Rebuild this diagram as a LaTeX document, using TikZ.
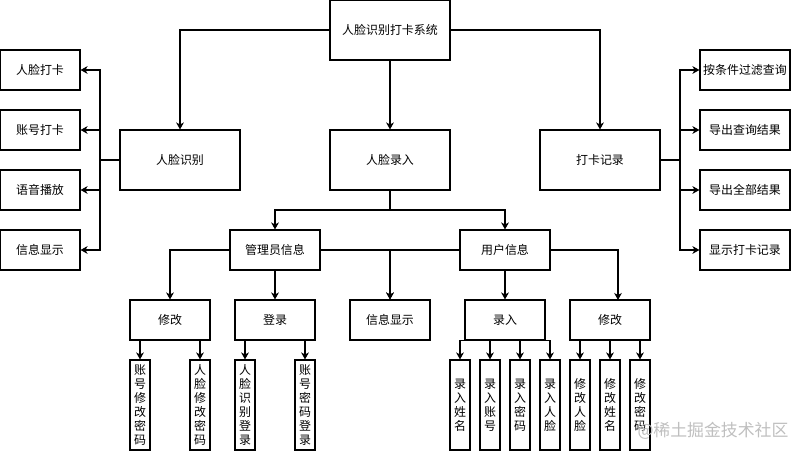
\documentclass[tikz,border=0pt]{standalone}
\usepackage{fontspec}
\setmainfont{Noto Sans CJK SC}
\usepackage{tikz}
\usetikzlibrary{positioning}
\usetikzlibrary{arrows.meta}
\tikzstyle{box}=[rectangle,draw=black,line width=0.75pt,minimum width=2cm,minimum height=1cm,inner sep=1pt,font=\fontsize{8.5}{10}\selectfont]
\tikzstyle{bigbox}=[box,minimum width=3cm,minimum height=1.5cm]
\tikzstyle{widebox}=[box,minimum width=2.25cm]
\tikzstyle{tallbox}=[box,minimum width=0.5cm,minimum height=2.25cm,align=center,font=\fontsize{8.5}{9.9}\selectfont]
\tikzstyle{edge} = [draw,line width=0.75pt,-{Stealth[length=5pt,width=5.5pt,inset=1.5pt]}]
\tikzstyle{plainedge} = [draw,line width=0.75pt]

\begin{document}
\begin{tikzpicture}[x=0.025cm,y=-0.025cm]

  \useasboundingbox (0,0) rectangle (791,451);

  % main row
  \foreach \x/\y/\name/\label in {390/30/sys/人脸识别打卡系统, 180/160/rec/人脸识别, 390/160/ent/人脸录入, 600/160/log/打卡记录}
          \node[bigbox] (\name) at (\x,\y) {\label};

  \foreach \y/\name/\label in {70/l1/人脸打卡, 130/l2/账号打卡, 190/l3/语音播放, 250/l4/信息显示}
          \node[box] (\name) at (40,\y) {\label};

  \foreach \y/\name/\label in {70/r1/按条件过滤查询, 130/r2/导出查询结果, 190/r3/导出全部结果, 250/r4/显示打卡记录}
          \node[widebox] (\name) at (745,\y) {\label};

  \node[widebox] (admin) at (275,250) {管理员信息};
  \node[widebox] (user) at (505,250) {用户信息};

  \foreach \x/\name/\label in {170/amod/修改, 275/alog/登录, 390/info/信息显示, 505/uent/录入, 610/umod/修改}
          \node[box] (\name) at (\x,320) {\label};

  \foreach \x/\name/\label in {140/a1/{账\\号\\修\\改\\密\\码}, 200/a2/{人\\脸\\修\\改\\密\\码}, 245/a3/{人\\脸\\识\\别\\登\\录}, 305/a4/{账\\号\\密\\码\\登\\录},
                               460/u1/{录\\入\\姓\\名}, 490/u2/{录\\入\\账\\号}, 520/u3/{录\\入\\密\\码}, 550/u4/{录\\入\\人\\脸},
                               580/u5/{修\\改\\人\\脸}, 610/u6/{修\\改\\姓\\名}, 640/u7/{修\\改\\密\\码}}
          \node[tallbox] (\name) at (\x,405) {\label};

  \coordinate (lbus) at (100,160);
  \coordinate (rbus) at (680,160);
  \coordinate (ebus) at (390,210);
  \coordinate (umodin) at (618,300);

  % top level
  \path[edge] (sys.west) -| (rec.north);
  \path[edge] (sys.east) -| (log.north);
  \path[edge] (sys.south) -- (ent.north);

  \path[plainedge] (rec.west) -- (lbus);
  \foreach \dest in {l1,l2,l3,l4}
         \path[edge] (lbus) |- (\dest.east);

  \path[plainedge] (log.east) -- (rbus);
  \foreach \dest in {r1,r2,r3,r4}
         \path[edge] (rbus) |- (\dest.west);

  \path[plainedge] (ent.south) -- (ebus);
  \foreach \dest in {admin,user}
         \path[edge] (ebus) -| (\dest.north);

  % second level
  \path[edge] (admin.west) -| (amod.north);
  \path[edge] (admin.south) -- (alog.north);
  \path[edge] (admin.east) -| (info.north);
  \path[edge] (user.west) -| (info.north);
  \path[edge] (user.south) -- (uent.north);
  \path[edge] (user.east) -| (umodin);

  % leaves
  \foreach \source/\dest in {amod/a1, amod/a2, alog/a3, alog/a4, umod/u5, umod/u6, umod/u7}
         \path[edge] (\source.south -| \dest.north) -- (\dest.north);

  \foreach \dest in {u1,u2,u3,u4}
         \path[edge] (uent.south) -| (\dest.north);

  \node[text=black!25, inner sep=0pt, font=\fontsize{12}{14}\selectfont] (mark) at (713,431) {@稀土掘金技术社区};

\end{tikzpicture}
\end{document}
